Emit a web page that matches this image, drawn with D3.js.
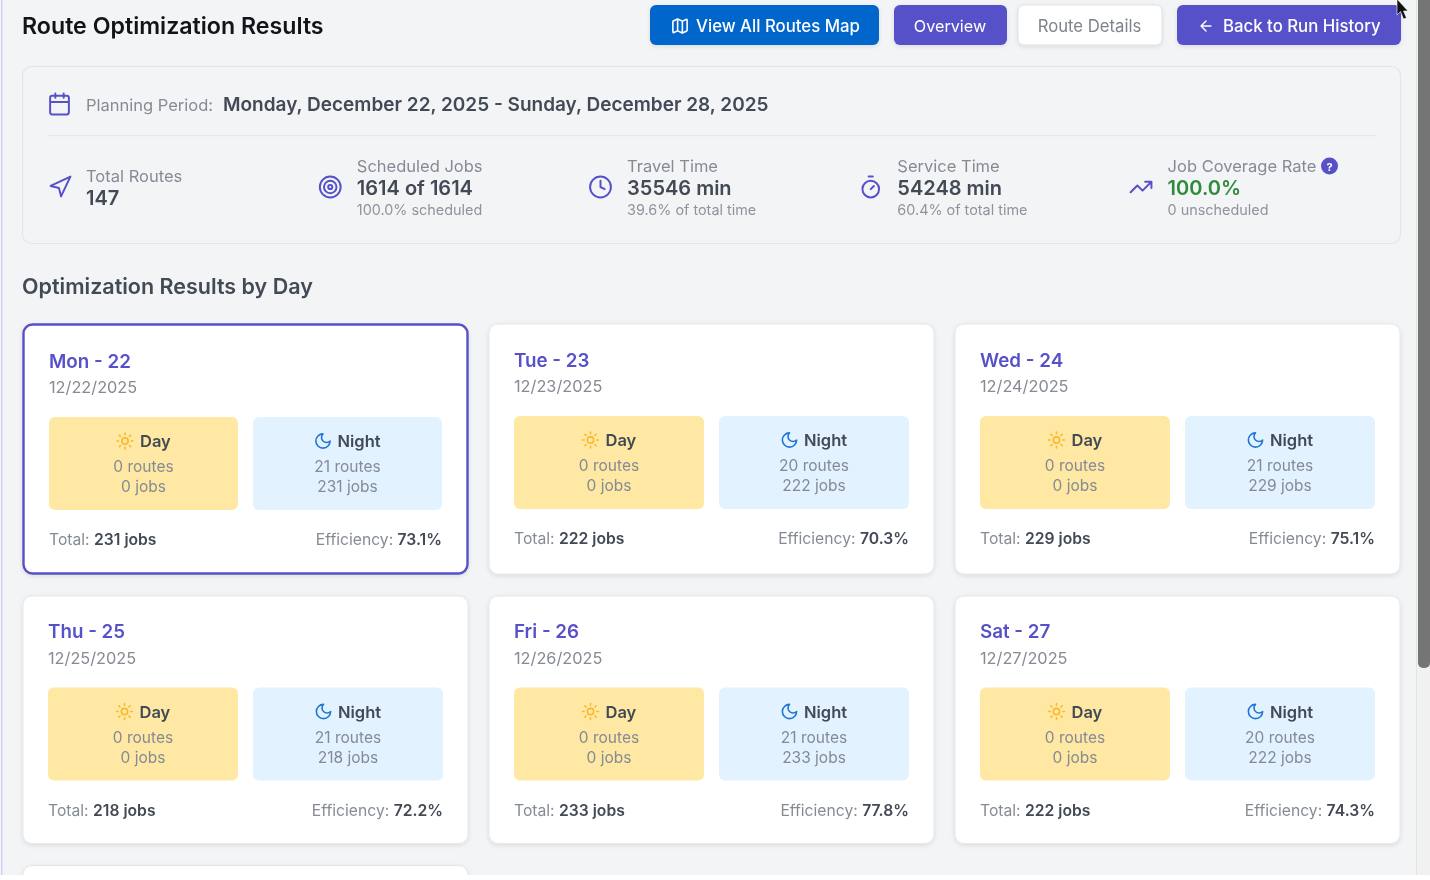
<!DOCTYPE html>
<html>
<head>
<meta charset="utf-8">
<script src="https://cdn.jsdelivr.net/npm/d3@7/dist/d3.min.js"></script>
<style>
  html, body { margin: 0; padding: 0; background: #fff; overflow: hidden; }
  svg { display: block; font-family: Inter, "Noto Sans", sans-serif; filter: blur(0.35px); }
</style>
</head>
<body>
<div id="chart"></div>
<script>
// Day card data
const dayLabels = ["Mon - 22", "Tue - 23", "Wed - 24", "Thu - 25", "Fri - 26", "Sat - 27"];
const dayDates = ["12/22/2025", "12/23/2025", "12/24/2025", "12/25/2025", "12/26/2025", "12/27/2025"];
const dayRoutes = [0, 0, 0, 0, 0, 0];
const dayJobs = [0, 0, 0, 0, 0, 0];
const nightRoutes = [21, 20, 21, 21, 21, 20];
const nightJobs = [231, 222, 229, 218, 233, 222];
const totalJobs = [231, 222, 229, 218, 233, 222];
const efficiency = [73.1, 70.3, 75.1, 72.2, 77.8, 74.3];

// Summary strip
const statLabels = ["Total Routes", "Scheduled Jobs", "Travel Time", "Service Time", "Job Coverage Rate"];
const statValues = ["147", "1614 of 1614", "35546 min", "54248 min", "100.0%"];
const statNotes = ["", "100.0% scheduled", "39.6% of total time", "60.4% of total time", "0 unscheduled"];
const statIcons = ["navigation", "target", "clock", "timer", "trending"];

const INDIGO = "#5651c9", BLUE = "#0066cc", INK = "#424a55", MUTED = "#858b94";

// Lucide-style icons on a 24 box
const icons = {
  calendar: "M5 4h14a2 2 0 0 1 2 2v14a2 2 0 0 1-2 2H5a2 2 0 0 1-2-2V6a2 2 0 0 1 2-2z M16 2v4 M8 2v4 M3 10h18",
  navigation: "M3 11 22 2 13 21 11 13z",
  target: "M12 2a10 10 0 1 0 0 20a10 10 0 1 0 0-20z M12 6a6 6 0 1 0 0 12a6 6 0 1 0 0-12z M12 10a2 2 0 1 0 0 4a2 2 0 1 0 0-4z",
  clock: "M12 2a10 10 0 1 0 0 20a10 10 0 1 0 0-20z M12 6v6l4 2",
  timer: "M10 2h4 M12 14l3-3 M12 6a8 8 0 1 0 0 16a8 8 0 1 0 0-16z",
  trending: "M22 7l-8.5 8.5-5-5L2 17 M16 7h6v6",
  map: "M14.106 5.553a2 2 0 0 0 1.788 0l3.659-1.83A1 1 0 0 1 21 4.619v12.764a1 1 0 0 1-.553.894l-4.553 2.277a2 2 0 0 1-1.788 0l-4.212-2.106a2 2 0 0 0-1.788 0l-3.659 1.83A1 1 0 0 1 3 19.381V6.618a1 1 0 0 1 .553-.894l4.553-2.277a2 2 0 0 1 1.788 0z M15 5.764v15 M9 3.236v15",
  arrow: "M12 19l-7-7 7-7 M19 12H5",
  sun: "M12 8a4 4 0 1 0 0 8a4 4 0 1 0 0-8z M12 2v2 M12 20v2 M4.93 4.93l1.41 1.41 M17.66 17.66l1.41 1.41 M2 12h2 M20 12h2 M6.34 17.66l-1.41 1.41 M19.07 4.93l-1.41 1.41",
  moon: "M12 3a6 6 0 0 0 9 9 9 9 0 1 1-9-9Z"
};

const W = 1430, H = 880, PAGE_H = 875;
const svg = d3.select("#chart").append("svg").attr("width", W).attr("height", H);

const defs = svg.append("defs");
const shadow = defs.append("filter").attr("id", "soft").attr("x", "-10%").attr("y", "-10%").attr("width", "120%").attr("height", "125%");
shadow.append("feDropShadow").attr("dx", 0).attr("dy", 1.5).attr("stdDeviation", 2).attr("flood-color", "#000").attr("flood-opacity", 0.1);
defs.append("clipPath").attr("id", "page").append("rect").attr("width", W).attr("height", PAGE_H);

const page = svg.append("g").attr("clip-path", "url(#page)");
page.append("rect").attr("width", W).attr("height", PAGE_H).attr("fill", "#f3f4f6");

function text(g, x, y, str, size, color, weight, anchor) {
  return g.append("text").attr("x", x).attr("y", y)
    .attr("font-size", size).attr("fill", color)
    .attr("font-weight", weight || 400)
    .attr("text-anchor", anchor || "start")
    .attr("dominant-baseline", "central")
    .text(str);
}

function icon(g, name, cx, cy, size, color, sw) {
  g.append("path").attr("d", icons[name])
    .attr("transform", `translate(${cx - size / 2},${cy - size / 2}) scale(${size / 24})`)
    .attr("fill", "none").attr("stroke", color)
    .attr("stroke-width", sw || 2)
    .attr("stroke-linecap", "round").attr("stroke-linejoin", "round");
}

// Left edge of the embedded page and scrollbar
page.append("rect").attr("x", 1).attr("y", 0).attr("width", 1.5).attr("height", H).attr("fill", "#cfcffa");
page.append("rect").attr("x", 1416).attr("y", 0).attr("width", 14).attr("height", H).attr("fill", "#f1f1f2");
page.append("rect").attr("x", 1416).attr("y", 0).attr("width", 1).attr("height", H).attr("fill", "#e2e3e5");
page.append("rect").attr("x", 1418).attr("y", -8).attr("width", 12).attr("height", 676).attr("rx", 5).attr("fill", "#757575");

// Header
text(page, 22, 26, "Route Optimization Results", 23.2, "#111418", 600);

function button(x, w, fill, label, labelX, color, opts) {
  const o = opts || {};
  const b = page.append("g");
  b.append("rect").attr("x", x).attr("y", 5).attr("width", w).attr("height", 40).attr("rx", 6)
    .attr("fill", fill).attr("stroke", o.stroke || "none").attr("filter", "url(#soft)");
  text(b, labelX, 26, label, o.size || 16.8, color, o.weight || 500, o.anchor);
  return b;
}
const mapBtn = button(650, 229, BLUE, "View All Routes Map", 696, "#fff");
icon(mapBtn, "map", 680, 26, 19, "#fff", 2);
button(894, 113, INDIGO, "Overview", 950, "#fff", { anchor: "middle", size: 16.2, weight: 400 });
button(1018, 144, "#fff", "Route Details", 1089.5, "#7d838c", { anchor: "middle", size: 16.7, weight: 400, stroke: "#dfe1e5" });
const backBtn = button(1177, 224, INDIGO, "Back to Run History", 1223, "#fff");
icon(backBtn, "arrow", 1206, 26, 17, "#fff", 2);

// Summary panel
page.append("rect").attr("x", 22.5).attr("y", 66.5).attr("width", 1378).attr("height", 177).attr("rx", 9)
  .attr("fill", "#f3f4f6").attr("stroke", "#e3e5e8").attr("stroke-width", 1.2);
icon(page, "calendar", 59.5, 104, 25, INDIGO, 1.9);
text(page, 86, 104.5, "Planning Period:", 16.5, MUTED);
text(page, 223, 104, "Monday, December 22, 2025 - Sunday, December 28, 2025", 19, INK, 600);
page.append("rect").attr("x", 47).attr("y", 135).attr("width", 1329).attr("height", 1.2).attr("fill", "#e4e6e9");

const statX = d3.scalePoint().domain(statLabels).range([60, 1141]);
statLabels.forEach((label, i) => {
  const x = statX(label);
  icon(page, statIcons[i], x, 187, 25, INDIGO, 1.9);
  const tx = i === 0 ? x + 26 : x + 26.6;
  if (statNotes[i]) {
    text(page, tx, 166, label, 16.5, MUTED);
    text(page, tx, 187.5, statValues[i], 20, i === 4 ? "#2e8b3a" : INK, 600);
    text(page, tx, 209.5, statNotes[i], 14.4, "#8f949c");
  } else {
    text(page, tx, 176, label, 16.5, MUTED);
    text(page, tx, 197.5, statValues[i], 20, INK, 600);
  }
});
// Help badge beside the coverage label
page.append("circle").attr("cx", 1329.5).attr("cy", 166).attr("r", 8.5).attr("fill", INDIGO);
text(page, 1329.5, 166.5, "?", 11, "#fff", 700, "middle");

text(page, 22, 286, "Optimization Results by Day", 21.5, INK, 600);

// Day cards
const colX = d3.scaleBand().domain(d3.range(3)).range([23, 1400]).paddingInner(21 / 466);
const rowY = d3.scaleOrdinal().domain([0, 1, 2]).range([324, 596, 865.5]);
const cardH = [250, 247.5];

// Peek of the next row, cut off by the viewport
page.append("rect").attr("x", colX(0)).attr("y", rowY(2)).attr("width", colX.bandwidth()).attr("height", 60).attr("rx", 9)
  .attr("fill", "#fff").attr("stroke", "#e3e5e8").attr("filter", "url(#soft)");

dayLabels.forEach((label, i) => {
  const col = i % 3, row = Math.floor(i / 3);
  const x = colX(col), y = rowY(row), w = colX.bandwidth(), h = cardH[row];
  const selected = i === 0;
  const g = page.append("g").attr("transform", `translate(${x},${y})`);
  g.append("rect").attr("x", selected ? 0.5 : 0).attr("y", selected ? 0.5 : 0)
    .attr("width", selected ? w - 1 : w).attr("height", selected ? h - 1 : h).attr("rx", 9)
    .attr("fill", "#fff")
    .attr("stroke", selected ? INDIGO : "#e6e7ea").attr("stroke-width", selected ? 2.4 : 1)
    .attr("filter", "url(#soft)");

  const dy = row === 0 ? (selected ? 1 : 0) : -0.5;
  const pad = selected ? 26 : 25;
  text(g, pad, 36 + dy, label, 18.8, INDIGO, 600);
  text(g, pad, 62 + dy, dayDates[i], 16.3, MUTED);

  const boxW = (w - 2 * pad - 15) / 2;
  const boxes = [
    { x: pad, fill: "#fee8a3", icon: "sun", ic: "#f8b92b", name: "Day", shift: -0.5, routes: dayRoutes[i], jobs: dayJobs[i] },
    { x: pad + boxW + 15, fill: "#e2f2fe", icon: "moon", ic: "#1f74d4", name: "Night", shift: -7, routes: nightRoutes[i], jobs: nightJobs[i] }
  ];
  boxes.forEach(b => {
    g.append("rect").attr("x", b.x).attr("y", 92 + dy).attr("width", boxW).attr("height", 93).attr("rx", 6).attr("fill", b.fill);
    const cx = b.x + boxW / 2;
    icon(g, b.icon, cx - 19 + (b.name === "Night" ? -5.5 : 0.5), 116 + dy, 19, b.ic, 2);
    text(g, cx - 3 + b.shift, 116 + dy, b.name, 16.5, INK, 600);
    text(g, cx, 141.5 + dy, `${b.routes} routes`, 15.5, MUTED, 400, "middle");
    text(g, cx, 161.5 + dy, `${b.jobs} jobs`, 15.5, MUTED, 400, "middle");
  });

  const foot = g.append("text").attr("x", pad).attr("y", 214 + dy).attr("dominant-baseline", "central").attr("font-size", 15.7);
  foot.append("tspan").attr("fill", MUTED).text("Total: ");
  foot.append("tspan").attr("fill", INK).attr("font-weight", 600).text(`${totalJobs[i]} jobs`);
  const eff = g.append("text").attr("x", w - pad).attr("y", 214 + dy).attr("text-anchor", "end")
    .attr("dominant-baseline", "central").attr("font-size", 15.7);
  eff.append("tspan").attr("fill", MUTED).text("Efficiency: ");
  eff.append("tspan").attr("fill", INK).attr("font-weight", 600).text(`${efficiency[i].toFixed(1)}%`);
});

// Mouse pointer caught in the screenshot
page.append("path").attr("d", "M1397 -1 L1397 15 L1400.5 11.5 L1403.5 19 L1406.5 18 L1403.5 11 L1408 11 Z")
  .attr("fill", "#111").attr("stroke", "#fff").attr("stroke-width", 0.6);
</script>
</body>
</html>
